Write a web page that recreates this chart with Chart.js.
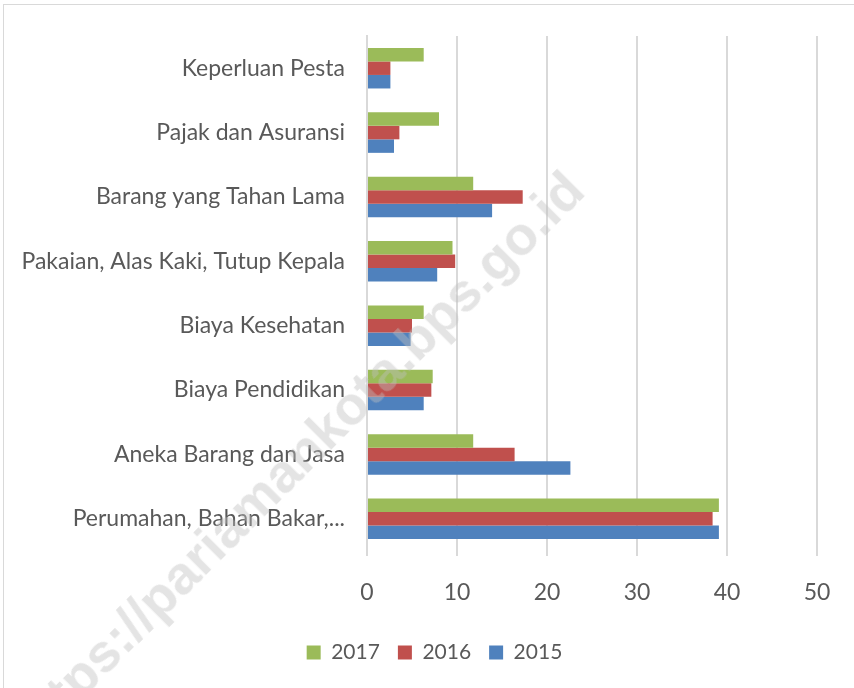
<!DOCTYPE html>
<html>
<head>
<meta charset="utf-8">
<script src="https://cdn.jsdelivr.net/npm/chart.js@4/dist/chart.umd.min.js"></script>
<style>
  html, body { margin: 0; padding: 0; background: #fff; }
  #wrap { position: relative; width: 854px; height: 688px; overflow: hidden; }
  #frame { position: absolute; left: 3px; top: 4px; width: 900px; height: 720px; border: 1px solid #d9d9d9; }
  #mark {
    position: absolute; left: 296px; top: 458px;
    transform: translate(-50%, -50%) rotate(-45deg);
    font: bold 54px "Liberation Sans", Arial, sans-serif;
    color: rgba(190, 190, 190, 0.42); white-space: nowrap;
    pointer-events: none;
  }
  canvas { position: absolute; left: 0; top: 0; }
</style>
</head>
<body>
<div id="wrap">
  <div id="frame"></div>
  <canvas id="chart" width="854" height="688"></canvas>
  <div id="mark">https://pariamankota.bps.go.id</div>
</div>
<script>
// categories, top to bottom as shown
const categories = [
  "Keperluan Pesta",
  "Pajak dan Asuransi",
  "Barang yang Tahan Lama",
  "Pakaian, Alas Kaki, Tutup Kepala",
  "Biaya Kesehatan",
  "Biaya Pendidikan",
  "Aneka Barang dan Jasa",
  "Perumahan, Bahan Bakar,..."
];
const values2017 = [6.3, 8.0, 11.8, 9.5, 6.3, 7.3, 11.8, 39.1];
const values2016 = [2.6, 3.6, 17.3, 9.8, 5.0, 7.15, 16.4, 38.4];
const values2015 = [2.6, 3.0, 13.9, 7.8, 4.85, 6.3, 22.6, 39.1];
const xTicks = [0, 10, 20, 30, 40, 50];

const FONT = "Lato, 'DejaVu Sans Condensed', sans-serif";
const TEXT = "#595959";

function ds(label, data, color) {
  return {
    label: label,
    data: data,
    backgroundColor: color,
    borderWidth: 0,
    categoryPercentage: 0.63,
    barPercentage: 1.0
  };
}

// the original legend sits a bit right of the canvas centre
const legendShift = {
  id: "legendShift",
  afterLayout: function(chart) {
    chart.legend.left += 21;
    chart.legend.right += 21;
  }
};

var ctx = document.getElementById("chart").getContext("2d");
var chart = new Chart(ctx, {
  type: "bar",
  plugins: [legendShift],
  data: {
    labels: categories,
    datasets: [
      ds("2017", values2017, "#9BBB59"),
      ds("2016", values2016, "#C0504D"),
      ds("2015", values2015, "#4F81BD")
    ]
  },
  options: {
    indexAxis: "y",
    responsive: false,
    animation: false,
    layout: { padding: { left: 10, right: 37, top: 36, bottom: 15 } },
    scales: {
      x: {
        min: 0,
        max: 50,
        afterBuildTicks: function(scale) {
          scale.ticks = xTicks.map(v => ({ value: v }));
        },
        afterFit: function(scale) { scale.height = 73; },
        grid: { color: "#d9d9d9", lineWidth: 2, tickLength: 5, drawTicks: true },
        border: { display: false },
        ticks: { color: TEXT, font: { family: FONT, size: 23 }, padding: 23 }
      },
      y: {
        afterFit: function(scale) { scale.width = 357; },
        grid: { display: false, drawTicks: false },
        border: { color: "#d9d9d9", width: 2 },
        ticks: { color: TEXT, font: { family: FONT, size: 23 }, padding: 22 }
      }
    },
    plugins: {
      tooltip: { enabled: false },
      legend: {
        position: "bottom",
        labels: {
          color: TEXT,
          font: { family: FONT, size: 21 },
          boxWidth: 14,
          boxHeight: 14,
          padding: 18
        }
      }
    }
  }
});
</script>
</body>
</html>
